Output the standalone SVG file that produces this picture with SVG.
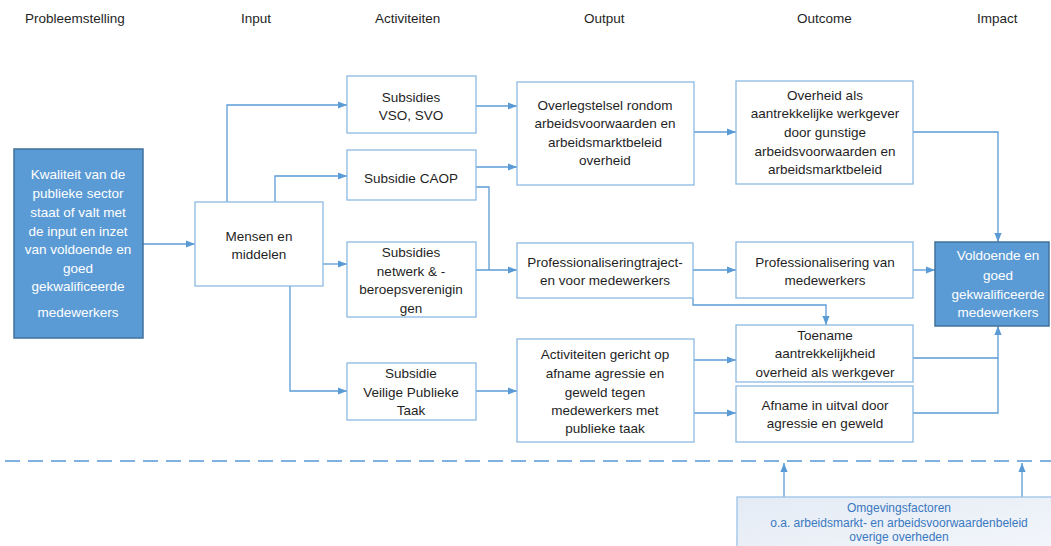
<svg xmlns="http://www.w3.org/2000/svg" width="1051" height="546" viewBox="0 0 1051 546">
<defs>
<marker id="arr" viewBox="0 0 10 10" refX="10" refY="5" markerWidth="9" markerHeight="9" markerUnits="userSpaceOnUse" orient="auto">
<path d="M0,1 L10,5 L0,9 z" fill="#5b9bd5"/>
</marker>
<linearGradient id="env" x1="0" y1="0" x2="1" y2="1">
<stop offset="0" stop-color="#e4ebf5"/>
<stop offset="1" stop-color="#f4f7fb"/>
</linearGradient>
<style>
text{font-family:"Liberation Sans",Arial,sans-serif;font-size:13.5px;fill:#1f1f1f;text-anchor:middle}
.hdr{font-size:13.5px;text-anchor:start}
.box{fill:#ffffff;stroke:#8db9e3;stroke-width:1.3}
.dark{fill:#5b9bd5;stroke:#41719c;stroke-width:1.5}
.wt{fill:#ffffff}
.con{fill:none;stroke:#5b9bd5;stroke-width:1.3}
.env{font-size:12px;fill:#3a78c0}
</style>
</defs>
<rect width="1051" height="546" fill="#ffffff"/>
<g id="headers">
<text class="hdr" x="25" y="23">Probleemstelling</text>
<text class="hdr" x="241" y="23">Input</text>
<text class="hdr" x="375" y="23">Activiteiten</text>
<text class="hdr" x="584" y="23">Output</text>
<text class="hdr" x="797" y="23">Outcome</text>
<text class="hdr" x="977" y="23">Impact</text>
</g>
<g id="connectors">
<path class="con" d="M143,244 H195" marker-end="url(#arr)"/>
<path class="con" d="M227,202 V105 H347" marker-end="url(#arr)"/>
<path class="con" d="M275,202 V176 H347" marker-end="url(#arr)"/>
<path class="con" d="M323,264 H347" marker-end="url(#arr)"/>
<path class="con" d="M290,286 V391 H347" marker-end="url(#arr)"/>
<path class="con" d="M476,106 H517" marker-end="url(#arr)"/>
<path class="con" d="M476,167 H517" marker-end="url(#arr)"/>
<path class="con" d="M476,187 H489 V270"/>
<path class="con" d="M476,270 H517" marker-end="url(#arr)"/>
<path class="con" d="M694,132 H736" marker-end="url(#arr)"/>
<path class="con" d="M913,132 H998 V242" marker-end="url(#arr)"/>
<path class="con" d="M693,270 H736" marker-end="url(#arr)"/>
<path class="con" d="M913,270 H935" marker-end="url(#arr)"/>
<path class="con" d="M693,298 V305 H826 V325" marker-end="url(#arr)"/>
<path class="con" d="M476,391 H517" marker-end="url(#arr)"/>
<path class="con" d="M694,360 H736" marker-end="url(#arr)"/>
<path class="con" d="M694,413 H736" marker-end="url(#arr)"/>
<path class="con" d="M913,358 H998 V326" marker-end="url(#arr)"/>
<path class="con" d="M913,413 H998 V358"/>
<path class="con" d="M784,497 V463" marker-end="url(#arr)"/>
<path class="con" d="M1022,497 V463" marker-end="url(#arr)"/>
<path d="M5,461 H1051" fill="none" stroke="#7fb2e3" stroke-width="2" stroke-dasharray="15 8"/>
</g>
<g id="problem">
<rect class="dark" x="14" y="149" width="129" height="189"/>
<text class="wt" x="78" y="179">Kwaliteit van de</text>
<text class="wt" x="78" y="198">publieke sector</text>
<text class="wt" x="78" y="217">staat of valt met</text>
<text class="wt" x="78" y="236">de input en inzet</text>
<text class="wt" x="78" y="254">van voldoende en</text>
<text class="wt" x="78" y="273">goed</text>
<text class="wt" x="78" y="291">gekwalificeerde</text>
<text class="wt" x="78" y="317">medewerkers</text>
</g>
<g id="mensen">
<rect class="box" x="195" y="202" width="128" height="84"/>
<text x="259" y="241">Mensen en</text>
<text x="259" y="259">middelen</text>
</g>
<g id="vso">
<rect class="box" x="347" y="76" width="129" height="57"/>
<text x="411" y="102">Subsidies</text>
<text x="411" y="120">VSO, SVO</text>
</g>
<g id="caop">
<rect class="box" x="347" y="150" width="129" height="50"/>
<text x="411" y="183">Subsidie CAOP</text>
</g>
<g id="netwerk">
<rect class="box" x="347" y="242" width="129" height="75"/>
<text x="411" y="257">Subsidies</text>
<text x="411" y="276">netwerk &amp; -</text>
<text x="411" y="294">beroepsverenigin</text>
<text x="411" y="313">gen</text>
</g>
<g id="veilig">
<rect class="box" x="347" y="363" width="129" height="57"/>
<text x="411" y="378">Subsidie</text>
<text x="411" y="397">Veilige Publieke</text>
<text x="411" y="415">Taak</text>
</g>
<g id="overleg">
<rect class="box" x="517" y="82" width="177" height="103"/>
<text x="605" y="110">Overlegstelsel rondom</text>
<text x="605" y="128">arbeidsvoorwaarden en</text>
<text x="605" y="147">arbeidsmarktbeleid</text>
<text x="605" y="165">overheid</text>
</g>
<g id="proftraject">
<rect class="box" x="517" y="243" width="176" height="55"/>
<text x="605" y="267">Professionaliseringtraject-</text>
<text x="605" y="285">en voor medewerkers</text>
</g>
<g id="activiteiten">
<rect class="box" x="517" y="339" width="177" height="103"/>
<text x="605" y="359">Activiteiten gericht op</text>
<text x="605" y="378">afname agressie en</text>
<text x="605" y="397">geweld tegen</text>
<text x="605" y="415">medewerkers met</text>
<text x="605" y="433">publieke taak</text>
</g>
<g id="overheid">
<rect class="box" x="736" y="81" width="177" height="103"/>
<text x="825" y="100">Overheid als</text>
<text x="825" y="118">aantrekkelijke werkgever</text>
<text x="825" y="137">door gunstige</text>
<text x="825" y="156">arbeidsvoorwaarden en</text>
<text x="825" y="174">arbeidsmarktbeleid</text>
</g>
<g id="profvan">
<rect class="box" x="736" y="242" width="177" height="56"/>
<text x="825" y="267">Professionalisering van</text>
<text x="825" y="285">medewerkers</text>
</g>
<g id="toename">
<rect class="box" x="736" y="325" width="177" height="57"/>
<text x="825" y="340">Toename</text>
<text x="825" y="358">aantrekkelijkheid</text>
<text x="825" y="377">overheid als werkgever</text>
</g>
<g id="afname">
<rect class="box" x="736" y="386" width="177" height="56"/>
<text x="825" y="410">Afname in uitval door</text>
<text x="825" y="428">agressie en geweld</text>
</g>
<g id="impact">
<rect class="dark" x="935" y="242" width="114" height="84"/>
<text class="wt" x="998" y="260">Voldoende en</text>
<text class="wt" x="998" y="280">goed</text>
<text class="wt" x="998" y="299">gekwalificeerde</text>
<text class="wt" x="998" y="317">medewerkers</text>
</g>
<g id="omgeving">
<rect x="737" y="497" width="330" height="60" fill="url(#env)" stroke="#9dc3e6" stroke-width="1.3"/>
<text class="env" x="899" y="512">Omgevingsfactoren</text>
<text class="env" x="899" y="527">o.a. arbeidsmarkt- en arbeidsvoorwaardenbeleid</text>
<text class="env" x="899" y="541">overige overheden</text>
</g>
</svg>
